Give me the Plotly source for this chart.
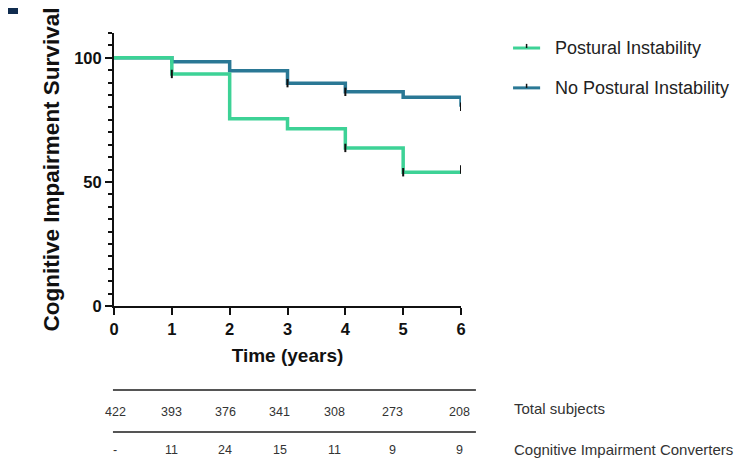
import plotly.graph_objects as go

# ---- data ----
years = [0, 1, 2, 3, 4, 5, 6]
pi_surv = [100, 93.5, 75.4, 71.4, 63.7, 53.9, 53.9]       # Postural Instability
nopi_surv = [100, 98.4, 94.8, 89.8, 86.3, 84.1, 80.3]     # No Postural Instability
pi_censor_x = [1, 4, 5, 6]
pi_censor_y = [93.5, 63.7, 53.9, 55.0]
nopi_censor_x = [3, 4, 6]
nopi_censor_y = [89.8, 86.3, 80.3]

table_x = [0.02, 1.0, 1.92, 2.87, 3.82, 4.81, 5.98]
total_subjects = ["422", "393", "376", "341", "308", "273", "208"]
converters = ["-", "11", "24", "15", "11", "9", "9"]
row_labels = ["Total subjects", "Cognitive Impairment Converters"]
series_names = ["Postural Instability", "No Postural Instability"]

GREEN = "#3dd296"
BLUE = "#2a7895"
FONT = "Liberation Sans, Arial, sans-serif"
NARROW = "Liberation Sans Narrow, Liberation Sans, Arial, sans-serif"

fig = go.Figure()
fig.add_trace(go.Scatter(x=years, y=nopi_surv, mode="lines", line=dict(color=BLUE, width=3.5, shape="hv"),
                         name=series_names[1], showlegend=False))
fig.add_trace(go.Scatter(x=years, y=pi_surv, mode="lines", line=dict(color=GREEN, width=3.5, shape="hv"),
                         name=series_names[0], showlegend=False))
fig.add_trace(go.Scatter(x=pi_censor_x, y=pi_censor_y, mode="markers",
                         marker=dict(symbol="line-ns", size=6, line=dict(color="#111", width=2)),
                         showlegend=False, hoverinfo="skip"))
fig.add_trace(go.Scatter(x=nopi_censor_x, y=nopi_censor_y, mode="markers",
                         marker=dict(symbol="line-ns", size=6, line=dict(color="#111", width=2)),
                         showlegend=False, hoverinfo="skip"))

# table numbers
for xv, t in zip(table_x, total_subjects):
    fig.add_annotation(x=xv, y=-0.388, xref="x", yref="paper", text=t, showarrow=False, yanchor="middle",
                       font=dict(family=NARROW, size=12.5, color="#333"))
for xv, t in zip(table_x, converters):
    fig.add_annotation(x=xv, y=-0.527, xref="x", yref="paper", text=t, showarrow=False, yanchor="middle",
                       font=dict(family=NARROW, size=12.5, color="#333"))
for yv, t in zip([-0.374, -0.527], row_labels):
    fig.add_annotation(x=1.147, y=yv, xref="paper", yref="paper", text=t, showarrow=False,
                       xanchor="left", yanchor="middle", font=dict(family=NARROW, size=15, color="#333"))
for yv in [-0.308, -0.4615]:
    fig.add_shape(type="line", xref="paper", yref="paper", x0=-0.003, x1=1.043, y0=yv, y1=yv,
                  line=dict(color="#555", width=2))

# manual legend
for yv, name, col in [(0.945, series_names[0], GREEN), (0.799, series_names[1], BLUE)]:
    fig.add_shape(type="line", xref="paper", yref="paper", x0=1.150, x1=1.228, y0=yv, y1=yv,
                  line=dict(color=col, width=3))
    fig.add_shape(type="line", xref="paper", yref="paper", x0=1.189, x1=1.189, y0=yv, y1=yv + 0.015,
                  line=dict(color="#111", width=1.5))
    fig.add_annotation(x=1.265, y=yv, xref="paper", yref="paper", text=name, showarrow=False,
                       xanchor="left", yanchor="middle", font=dict(family=FONT, size=18, color="#222"))

# panel label block (top-left corner)
fig.add_shape(type="rect", xref="paper", yref="paper", x0=-106 / 347, x1=-96 / 347,
              y0=1 + 19 / 273, y1=1 + 25 / 273, fillcolor="#102c4f", line=dict(width=0))

fig.update_layout(
    width=743, height=467,
    margin=dict(l=106, r=290, t=25, b=169),
    plot_bgcolor="white", paper_bgcolor="white",
    font=dict(family=FONT, color="#111"),
    xaxis=dict(range=[0, 6], tickvals=years, showline=True, linecolor="#111", linewidth=2,
               ticks="outside", ticklen=7, tickwidth=2, tickcolor="#111",
               tickfont=dict(size=16.5, weight="bold", color="#111"), showgrid=False, zeroline=False,
               title=dict(text="Time (years)", font=dict(size=19, weight="bold", color="#111"), standoff=12)),
    yaxis=dict(range=[0, 110], tickvals=[0, 50, 100], showline=True, linecolor="#111", linewidth=2,
               ticks="outside", ticklen=7, tickwidth=2, tickcolor="#111",
               minor=dict(dtick=5, ticks="outside", ticklen=4, tickwidth=1.5, tickcolor="#111"),
               tickfont=dict(size=16.5, weight="bold", color="#111"), showgrid=False, zeroline=False,
               title=dict(text="Cognitive Impairment Survival", font=dict(size=22.5, weight="bold", color="#111"),
                          standoff=8)),
)

fig.write_html("out.html")
